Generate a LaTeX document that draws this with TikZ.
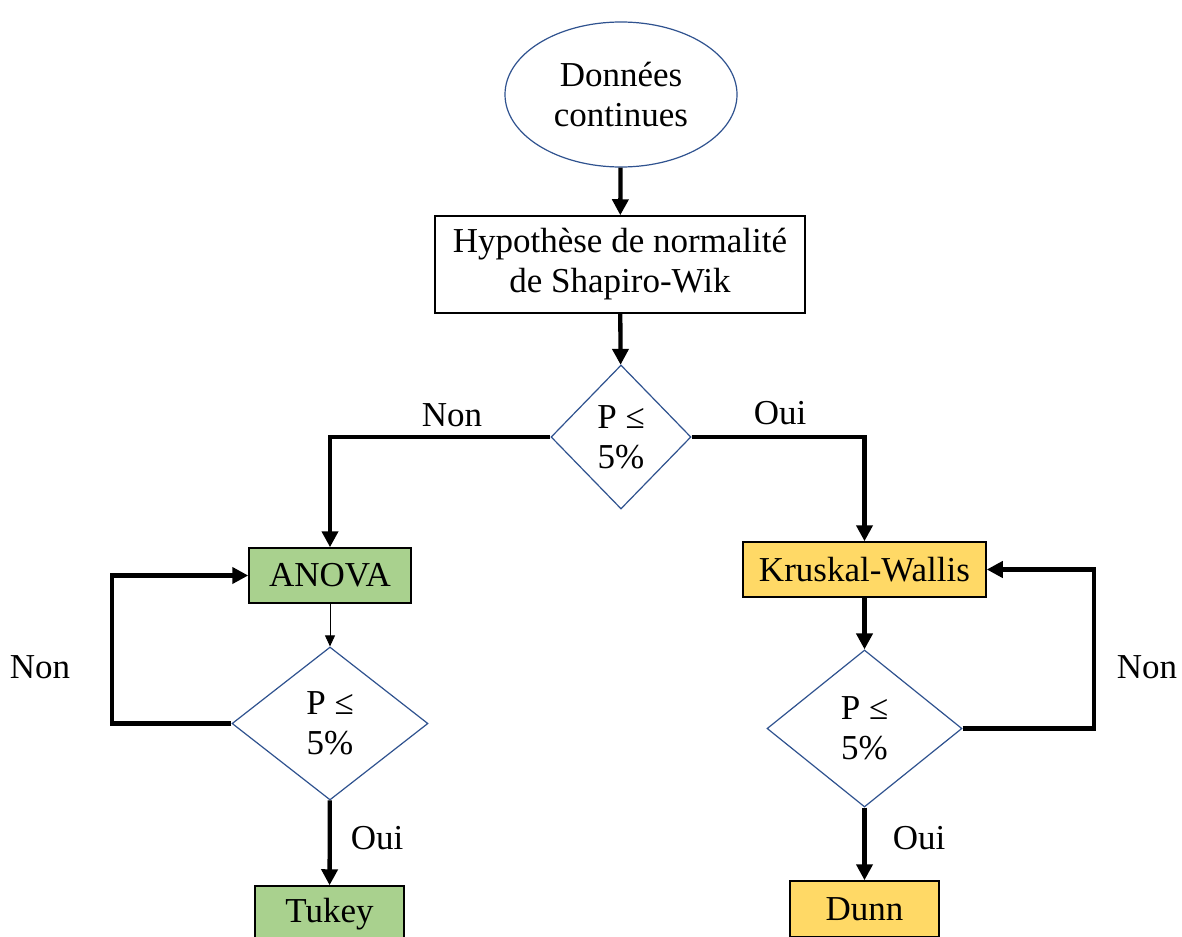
\documentclass[tikz,border=0pt]{standalone}
\usepackage{fontspec}
\setmainfont{Liberation Serif}
\usetikzlibrary{shapes.geometric,arrows.meta}
\definecolor{dblue}{HTML}{2F528F}
\definecolor{boxgreen}{HTML}{A9D18E}
\definecolor{boxyellow}{HTML}{FFD966}
\begin{document}
\begin{tikzpicture}[x=1pt,y=-1pt,
  every node/.style={font=\fontsize{35}{40}\selectfont, align=center, inner sep=0pt},
  ovalnode/.style={ellipse, draw=dblue, line width=1.2pt, minimum width=232pt, minimum height=145pt},
  boxnode/.style={rectangle, draw=black, line width=1.5pt},
  decision/.style={diamond, draw=dblue, line width=1.2pt, fill=white},
  flow/.style={draw=black, line width=4.3pt, -{Triangle[length=16pt,width=16pt]}},
  thinflow/.style={draw=black, line width=0.8pt, -{Triangle[length=11pt,width=10pt]}},
  lbl/.style={}
]
\useasboundingbox (0,0) rectangle (1182,936);
\clip (0,0) rectangle (1182,936);
\fill[white] (0,0) rectangle (1182,936);

% nodes
\node[ovalnode] (oval) at (621,94.5) {Données\\continues};
\node[boxnode, minimum width=370pt, minimum height=97pt] (hyp) at (620,264.5) {Hypothèse de normalité\\de Shapiro-Wik};
\node[decision, minimum width=140pt, minimum height=144pt] (d1) at (621,437) {P ≤\\5\%};

\node[boxnode, fill=boxgreen, minimum width=162pt, minimum height=55pt] (anova) at (330,575.5) {ANOVA};
\node[decision, minimum width=196pt, minimum height=153pt] (d2) at (330,723.5) {P ≤\\5\%};
\node[boxnode, fill=boxgreen, minimum width=149pt, minimum height=56pt] (tukey) at (329.5,914) {Tukey};

\node[boxnode, fill=boxyellow, minimum width=243pt, minimum height=55pt] (kw) at (864.5,569.5) {Kruskal-Wallis};
\node[decision, minimum width=195pt, minimum height=157pt] (d3) at (864.5,728.5) {P ≤\\5\%};
\node[boxnode, fill=boxyellow, minimum width=149pt, minimum height=56pt] (dunn) at (864.5,909) {Dunn};

% labels
\node[lbl] (non1) at (452,415) {Non};
\node[lbl] (oui1) at (780,413) {Oui};
\node[lbl] (non2) at (40,667) {Non};
\node[lbl] (oui2) at (377,838) {Oui};
\node[lbl] (non3) at (1147,667) {Non};
\node[lbl] (oui3) at (919,838) {Oui};

% helper coordinates for loops
\coordinate (lc) at (112,650);
\coordinate (rc) at (1094,650);

% connectors
\draw[flow] (oval) -- (hyp);
\draw[flow] (hyp) -- (d1);
\draw[flow] (d1.west) -| (anova.north);
\draw[flow] (d1.east) -| (kw.north);
\draw[thinflow] (anova) -- (d2);
\draw[flow] (d2) -- (tukey);
\draw[flow] (kw) -- (d3);
\draw[flow] (d3) -- (dunn);
\draw[flow] (d2.west) -- (d2.west -| lc) -- (lc |- anova.west) -- (anova.west);
\draw[flow] (d3.east) -- (d3.east -| rc) -- (rc |- kw.east) -- (kw.east);
\end{tikzpicture}
\end{document}
